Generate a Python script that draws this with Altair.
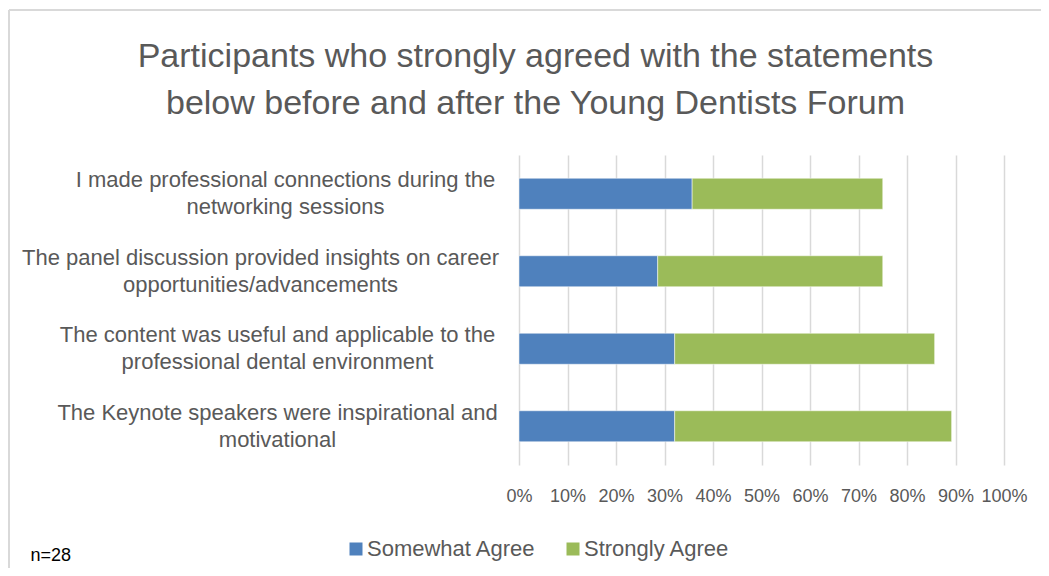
import altair as alt
import pandas as pd

statements = [
    "I made professional connections during the\nnetworking sessions",
    "The panel discussion provided insights on career\nopportunities/advancements",
    "The content was useful and applicable to the\nprofessional dental environment",
    "The Keynote speakers were inspirational and\nmotivational",
]
somewhat_agree = [0.357, 0.286, 0.321, 0.321]
strongly_agree = [0.393, 0.464, 0.536, 0.571]
series = ["Somewhat Agree", "Strongly Agree"]
colors = ["#4F81BD", "#9BBB59"]
tick_values = [0, 0.1, 0.2, 0.3, 0.4, 0.5, 0.6, 0.7, 0.8, 0.9, 1.0]

rows = []
for i, s in enumerate(statements):
    rows.append({"statement": s, "series": series[0], "value": somewhat_agree[i], "ord": 0})
    rows.append({"statement": s, "series": series[1], "value": strongly_agree[i], "ord": 1})
df = pd.DataFrame(rows)

FONT = "Liberation Sans"
GREY = "#595959"

bars = alt.Chart(df).mark_bar(stroke="white", strokeWidth=0.5).encode(
    y=alt.Y(
        "statement:N",
        sort=statements,
        scale=alt.Scale(paddingInner=0.6, paddingOuter=0.3),
        axis=alt.Axis(
            title=None,
            labelExpr="split(datum.label, '\\n')",
            labelAlign="center",
            labelBaseline="middle",
            labelPadding={
                "condition": [
                    {"test": "indexof(datum.label, 'panel') >= 0", "value": 259},
                    {"test": "indexof(datum.label, 'connections') >= 0", "value": 234},
                ],
                "value": 242,
            },
            labelOffset=-13.5,
            labelLimit=700,
            labelFontSize=22,
            labelLineHeight=27,
            labelColor=GREY,
            labelFont=FONT,
            ticks=False,
            tickSize=0,
            domain=False,
            grid=False,
        ),
    ),
    x=alt.X(
        "value:Q",
        stack="zero",
        scale=alt.Scale(domain=[0, 1], nice=False),
        axis=alt.Axis(
            format=".0%",
            values=tick_values,
            labelOverlap=False,
            labelFlush=False,
            labelFontSize=18,
            labelColor=GREY,
            labelFont=FONT,
            labelPadding=22,
            ticks=False,
            domain=False,
            grid=True,
            gridColor="#D9D9D9",
            gridWidth=1.5,
            title="n=28",
            titleFont=FONT,
            titleFontSize=18,
            titleFontWeight="normal",
            titleColor="#000000",
            titleAlign="left",
            titleBaseline="middle",
            titleX=-489,
            titleY=90,
        ),
    ),
    color=alt.Color(
        "series:N",
        scale=alt.Scale(domain=series, range=colors),
        legend=alt.Legend(
            title=None,
            orient="none",
            direction="horizontal",
            legendX=-174,
            legendY=383,
            padding=0,
            symbolType="square",
            symbolSize=169,
            symbolStrokeWidth=0,
            labelFontSize=22,
            labelFont=FONT,
            labelColor=GREY,
            labelOffset=0,
            labelLimit=0,
            columnPadding=26,
        ),
    ),
    order=alt.Order("ord:Q"),
)

frame_src = pd.DataFrame({"k": [0]})
left_border = alt.Chart(frame_src).mark_rule(color="#D9D9D9", strokeWidth=2).encode(
    x=alt.value(-510), y=alt.value(-145), y2=alt.value(420)
)
top_border = alt.Chart(frame_src).mark_rule(color="#D9D9D9", strokeWidth=2).encode(
    x=alt.value(-510), x2=alt.value(530), y=alt.value(-145)
)

chart = alt.layer(bars, left_border, top_border).properties(
    width=485,
    height=310,
    padding={"left": 511, "top": 147, "right": 37, "bottom": 103},
    autosize=alt.AutoSizeParams(type="none"),
    title=alt.TitleParams(
        text=["Participants who strongly agreed with the statements",
              "below before and after the Young Dentists Forum"],
        font=FONT,
        fontSize=34,
        fontWeight="normal",
        color=GREY,
        anchor="middle",
        frame="group",
        dx=-226,
        offset=-112,
        lineHeight=47,
    ),
).configure(background="white", view=alt.ViewConfig(stroke=None))

chart.save("out.html", embed_options={"renderer": "svg", "actions": False})
